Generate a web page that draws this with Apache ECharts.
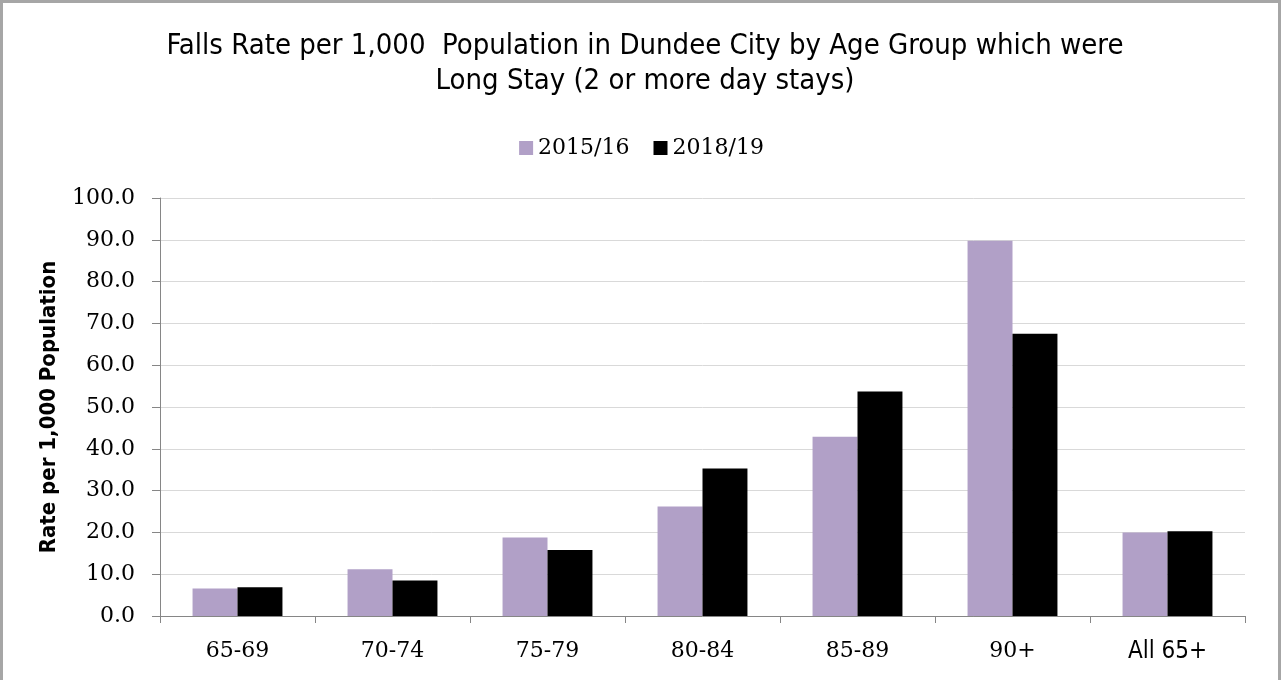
<!DOCTYPE html>
<html>
<head>
<meta charset="utf-8">
<script src="https://cdn.jsdelivr.net/npm/echarts@6/dist/echarts.min.js"></script>
<style>html,body{margin:0;padding:0;background:#fff}#c{width:1283px;height:680px}</style>
</head>
<body>
<div id="c"></div>
<script>
var categories = ['65-69', '70-74', '75-79', '80-84', '85-89', '90+', 'All 65+'];
var series2015 = [6.6, 11.2, 18.8, 26.2, 42.9, 89.8, 20.0];
var series2019 = [6.9, 8.5, 15.8, 35.3, 53.7, 67.5, 20.3];
var seriesNames = ['2015/16', '2018/19'];
var yTicks = { min: 0, max: 100, interval: 10 };

var chart = echarts.init(document.getElementById('c'));
chart.setOption({
  animation: false,
  backgroundColor: '#fff',
  graphic: [{
    type: 'rect', shape: { x: 1.5, y: 1.5, width: 1278, height: 700 },
    style: { fill: 'none', stroke: '#a6a6a6', lineWidth: 3 }, silent: true
  }],
  title: {
    text: 'Falls Rate per 1,000  Population in Dundee City by Age Group which were\nLong Stay (2 or more day stays)',
    left: 640, textAlign: 'center', top: 24,
    textStyle: { fontFamily: 'Liberation Sans Narrow, DejaVu Sans Condensed, sans-serif', fontSize: 29, fontWeight: 'normal', color: '#000', lineHeight: 35 }
  },
  legend: {
    data: seriesNames, left: 'center', top: 132, itemWidth: 14, itemHeight: 14, itemGap: 24,
    icon: 'rect',
    textStyle: { fontFamily: 'DejaVu Serif, serif', fontSize: 22, color: '#000', padding: [0, 0, 0, 0] }
  },
  grid: { left: 160, right: 38, top: 198, bottom: 64 },
  xAxis: {
    type: 'category', data: categories,
    axisLine: { lineStyle: { color: '#868686', width: 1 } },
    axisTick: { show: true, interval: 0, alignWithLabel: false, length: 7, lineStyle: { color: '#868686' } },
    axisLabel: {
      interval: 0, margin: 24, fontFamily: 'DejaVu Serif, serif', fontSize: 22, color: '#000',
      formatter: function (v) { return v === 'All 65+' ? '{s|' + v + '}' : v; },
      rich: { s: { fontFamily: 'Liberation Sans Narrow, DejaVu Sans Condensed, sans-serif', fontSize: 24, color: '#000' } }
    }
  },
  yAxis: {
    type: 'value', min: yTicks.min, max: yTicks.max, interval: yTicks.interval,
    name: 'Rate per 1,000 Population', nameLocation: 'middle', nameGap: 100, nameRotate: 90,
    nameTextStyle: { fontFamily: 'Liberation Sans Narrow, DejaVu Sans Condensed, sans-serif', fontSize: 22, fontWeight: 'bold', color: '#000' },
    axisLine: { show: true, lineStyle: { color: '#868686', width: 1 } },
    axisTick: { show: true, length: 8, lineStyle: { color: '#868686' } },
    splitLine: { lineStyle: { color: '#d9d9d9', width: 1 } },
    axisLabel: {
      margin: 25, fontFamily: 'DejaVu Serif, serif', fontSize: 22, color: '#000',
      formatter: function (v) { return v.toFixed(1); }
    }
  },
  series: [
    { name: seriesNames[0], type: 'bar', data: series2015, barGap: '0%', barCategoryGap: '42%', itemStyle: { color: '#b1a0c7' } },
    { name: seriesNames[1], type: 'bar', data: series2019, itemStyle: { color: '#000000' } }
  ]
});
</script>
</body>
</html>
